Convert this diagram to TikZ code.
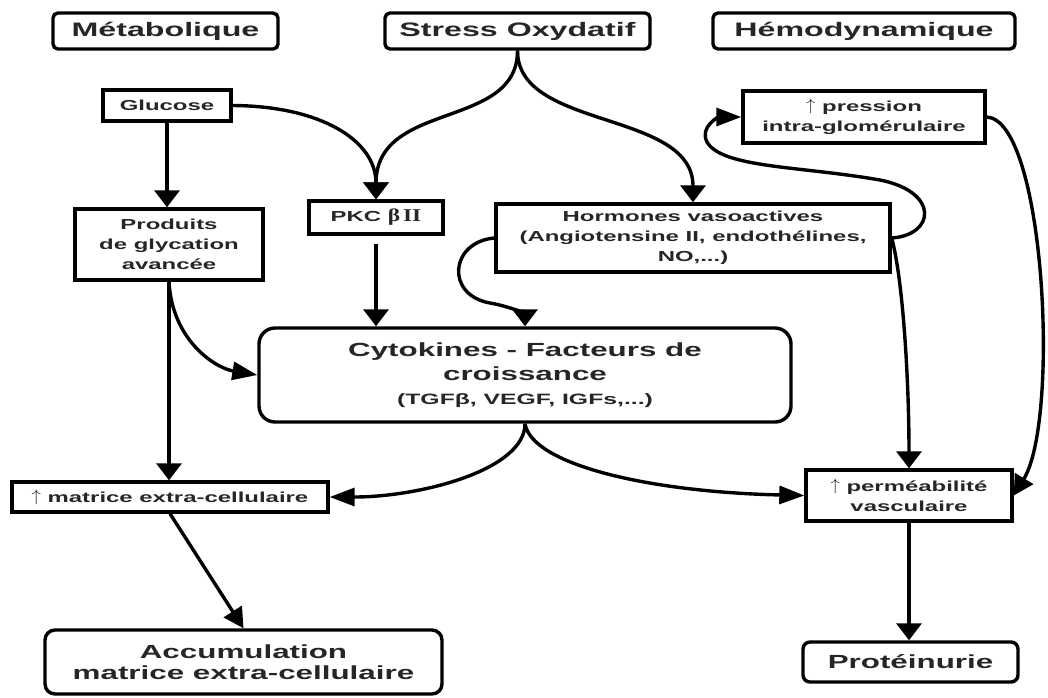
\documentclass[tikz,border=0pt]{standalone}
\usepackage{fontspec}
\setmainfont{Liberation Sans}[FakeStretch=1.65]
\newfontfamily\serifb{Liberation Serif}[FakeStretch=1.3]
\newcommand{\upar}{\raisebox{0.1em}{\scalebox{1.3}[1.15]{$\uparrow$}}}
\usetikzlibrary{arrows.meta}
\begin{document}
\begin{tikzpicture}[x=1pt,y=-1pt,
  box/.style={draw=black, line width=3.4pt, inner sep=0pt, align=center, text=black!85,
    font=\bfseries\fontsize{14.5}{20}\selectfont},
  title/.style={box, rounded corners=5pt, font=\bfseries\fontsize{19.5}{24}\selectfont},
  big/.style={box, font=\bfseries\fontsize{19}{21}\selectfont},
  con/.style={line width=3.4pt},
  av/.style={con, -{Triangle[length=17pt,width=25pt]}},
  ah/.style={con, -{Triangle[length=25pt,width=18pt]}},
  ad/.style={con, -{Triangle[length=20pt,width=21pt]}},
]
\useasboundingbox (0,0) rectangle (1048,697);

% nodes
\node[title, minimum width=225pt, minimum height=36pt] (met) at (165.5,31) {Métabolique};
\node[title, minimum width=265pt, minimum height=36pt] (stress) at (517.5,31) {Stress Oxydatif};
\node[title, minimum width=302pt, minimum height=36pt] (hemo) at (864,31) {Hémodynamique};
\node[box, minimum width=128pt, minimum height=31pt] (glu) at (167,105.5) {Glucose};
\node[box, minimum width=188pt, minimum height=71pt] (prod) at (169,244.5) {Produits\\de glycation\\avancée};
\node[box, minimum width=134pt, minimum height=33pt] (pkc) at (376,217.5) {PKC {\serifb\fontsize{18}{20}\selectfont β\,II}};
\node[box, minimum width=394pt, minimum height=68pt] (horm) at (693,238) {Hormones vasoactives\\(Angiotensine II, endothélines,\\NO,...)};
\node[box, minimum width=242pt, minimum height=52pt] (pres) at (864,117) {\upar\ pression\\intra-glomérulaire};
\node[big, rounded corners=16pt, minimum width=532pt, minimum height=94pt,
  font=\bfseries\fontsize{19}{24}\selectfont] (cyto) at (525,375)
  {Cytokines - Facteurs de\\croissance\\{\fontsize{15}{24}\selectfont (TGFβ, VEGF, IGFs,...)}};
\node[box, minimum width=316pt, minimum height=30pt] (mat) at (170,497) {\upar\ matrice extra-cellulaire};
\node[box, minimum width=206pt, minimum height=51pt] (perm) at (909,495.5) {\upar\ perméabilité\\vasculaire};
\node[big, rounded corners=7pt, minimum width=215pt, minimum height=40pt] (prot) at (910.5,662) {Protéinurie};
\node[big, rounded corners=10pt, minimum width=397pt, minimum height=64pt] (acc) at (243.5,662) {Accumulation\\matrice extra-cellulaire};

% connectors
\draw[av] (stress.south) .. controls (517.5,130) and (376,100) .. (pkc.north);
\draw[av] (stress.south) .. controls (517.5,130) and (693,110) .. (horm.north);
\draw[av] (glu.east) .. controls (320,106) and (376,140) .. (pkc.north);
\draw[av] (glu.south) -- (glu.south |- prod.north);
\draw[av, shorten <=8pt] (pkc.south) -- (pkc.south |- cyto.north);
\draw[av] (horm.west) .. controls (450,242) and (445,295) .. (490,303)
  .. controls (513,307) and (525,315) .. (cyto.north);
\draw[av] (prod.south) -- (prod.south |- mat.north);
\draw[ah] (prod.south) .. controls (172,340) and (215,368) .. (cyto.west);
\draw[ah] (cyto.south) .. controls (525,470) and (420,497) .. (mat.east);
\draw[ah] (cyto.south) .. controls (532,465) and (650,492) .. (perm.west);
\draw[ah] (horm.east) .. controls (935,235) and (940,192) .. (880,180)
  .. controls (800,166) and (722,168) .. (707,142)
  .. controls (699,126) and (720,117) .. (pres.west);
\draw[av] (horm.east) .. controls (903,280) and (909,380) .. (perm.north);
\draw[ad] (pres.east) .. controls (1045,120) and (1060,420) .. (perm.east);
\draw[av] (perm.south) -- (perm.south |- prot.north);
\draw[ad] (mat.south) -- (acc.north);
\end{tikzpicture}
\end{document}
